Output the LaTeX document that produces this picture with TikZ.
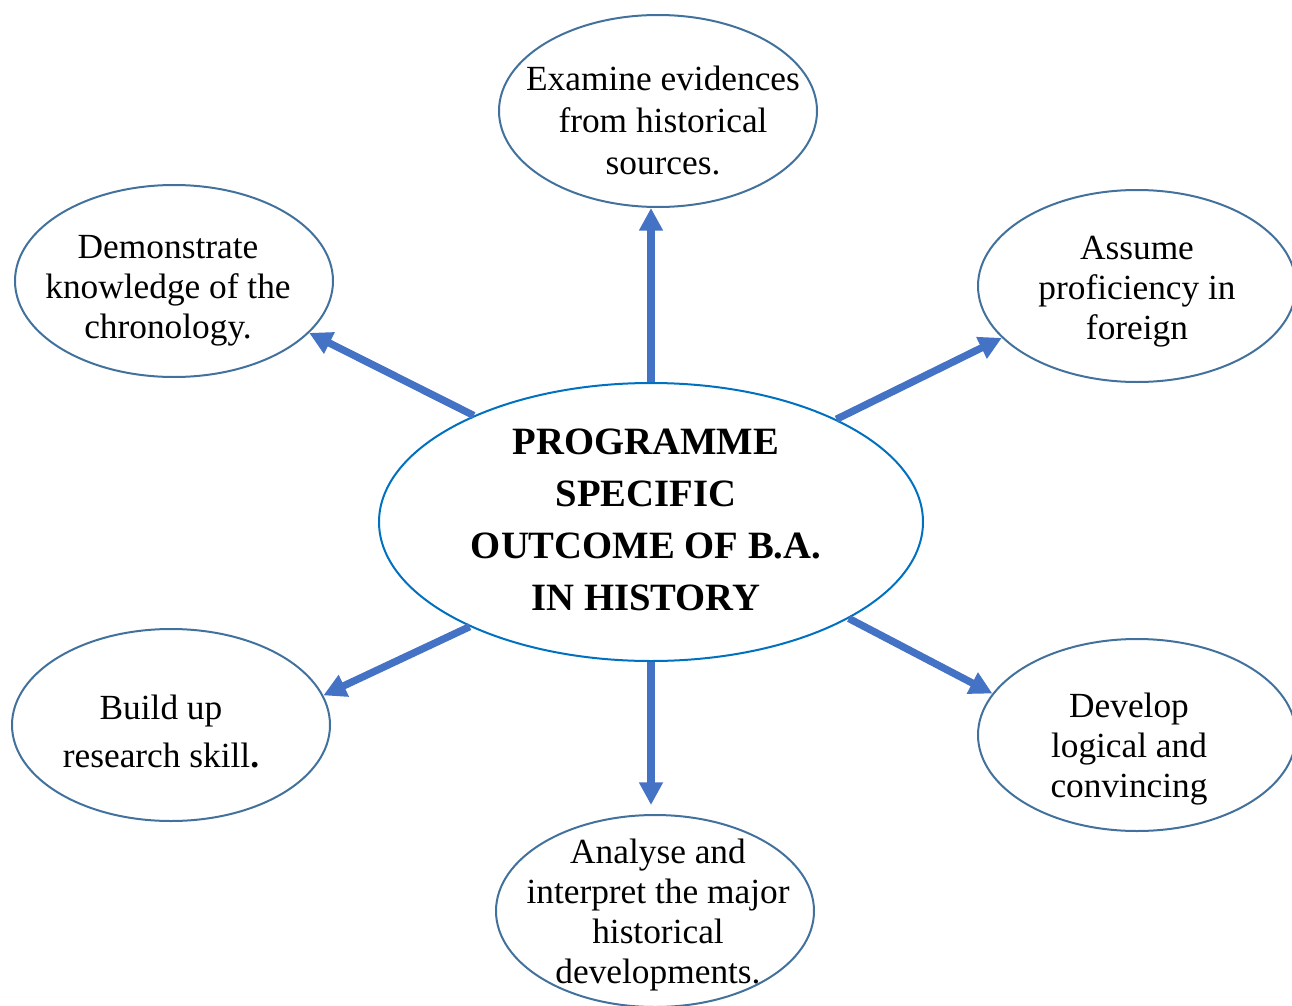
\documentclass[tikz,border=0pt]{standalone}
\usepackage{fontspec}
\setmainfont{Liberation Serif}
\usetikzlibrary{shapes.geometric,arrows.meta}
\definecolor{satline}{RGB}{65,113,156}
\definecolor{cenline}{RGB}{0,112,192}
\definecolor{arr}{RGB}{68,114,196}
\tikzset{
 sat/.style={ellipse, draw=satline, line width=1.5pt, minimum width=238.5pt, minimum height=144pt, inner sep=0pt},
 cen/.style={ellipse, draw=cenline, line width=1.5pt, minimum width=408pt, minimum height=208.5pt, inner sep=0pt},
 sattext/.style={align=center, inner sep=0pt, font=\fontsize{26.5}{30}\selectfont},
 centext/.style={align=center, inner sep=0pt, font=\bfseries\fontsize{29}{39}\selectfont},
 arrowline/.style={draw=arr, line width=5.5pt, -{Triangle[length=17pt,width=17pt]}}
}
\begin{document}
\begin{tikzpicture}[x=0.75pt,y=-0.75pt]
\path[use as bounding box] (0,0) rectangle (1292,1006);
\clip (0,0) rectangle (1292,1006);
\node[cen] (c) at (651,522) {};
\node[centext] (ct) at (646,520) {PROGRAMME\\SPECIFIC\\OUTCOME OF B.A.\\IN HISTORY};
\node[sat] (t) at (658,111) {};
\node[sattext] (tt) at (663,120) {Examine evidences\\[1.5pt]from historical\\[1.5pt]sources.};
\node[sat] (tl) at (174,281) {};
\node[sattext] (tlt) at (168,291) {Demonstrate\\knowledge of the\\chronology.};
\node[sat] (tr) at (1137,286) {};
\node[sattext] (trt) at (1137,292) {Assume\\proficiency in\\foreign};
\node[sat] (bl) at (171,725) {};
\node[sattext] (blt) at (161,731) {Build up\\[6pt]research skill\textbf{.}};
\node[sat] (br) at (1137,735) {};
\node[sattext] (brt) at (1129,749) {Develop\\logical and\\convincing};
\node[sat] (b) at (655,911) {};
\node[sattext] (bt) at (658,915) {Analyse and\\interpret the major\\historical\\developments.};
\draw[arrowline] (c.north) -- (c.north |- t.south);
\draw[arrowline] (c.149.4) -- (tl.-21.7);
\draw[arrowline] (c.29.5) -- (tr.201.1);
\draw[arrowline] (c.210.6) -- (bl.11.9);
\draw[arrowline] (c.-26.2) -- (br.164.1);
\draw[arrowline, shorten >=6.75pt] (c.south) -- (c.south |- b.north);
\end{tikzpicture}
\end{document}
